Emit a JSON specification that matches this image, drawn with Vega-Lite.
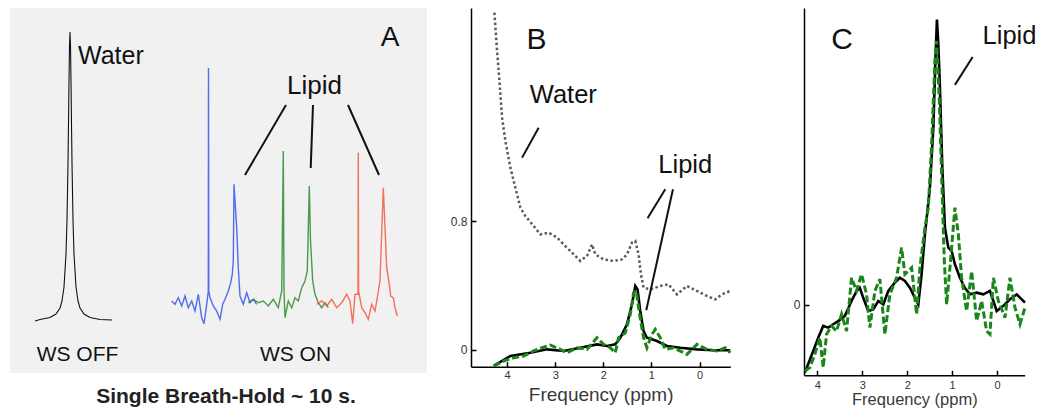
{
  "$schema": "https://vega.github.io/schema/vega-lite/v6.json",
  "padding": {"left": 10, "top": 7, "right": 0, "bottom": 0},
  "background": "white",
  "bounds": "flush",
  "spacing": 10,
  "config": {
    "view": {"stroke": null},
    "axis": {"grid": false, "domainColor": "#000", "domainWidth": 1.5, "tickColor": "#000", "tickWidth": 1.5, "labelFont": "Liberation Sans", "titleFont": "Liberation Sans", "labelColor": "#333", "titleColor": "#3a3a3a", "titleFontWeight": "normal"},
    "text": {"font": "Liberation Sans", "color": "#111"}
  },
  "datasets": {
    "aWater": [
      {"x": 25, "y": 0}, {"x": 30, "y": 1.5}, {"x": 40, "y": 3.5}, {"x": 46, "y": 7}, {"x": 50, "y": 13}, {"x": 52, "y": 20}, {"x": 54, "y": 34}, {"x": 56, "y": 67}, {"x": 57, "y": 101}, {"x": 58, "y": 158}, {"x": 58.5, "y": 197}, {"x": 59, "y": 240}, {"x": 59.5, "y": 275}, {"x": 60, "y": 289}, {"x": 60.5, "y": 275}, {"x": 61, "y": 240}, {"x": 61.5, "y": 197}, {"x": 62, "y": 158}, {"x": 63, "y": 101}, {"x": 64, "y": 67}, {"x": 66, "y": 34}, {"x": 68, "y": 20}, {"x": 70, "y": 13}, {"x": 74, "y": 7}, {"x": 80, "y": 3.5}, {"x": 90, "y": 1.5}, {"x": 102, "y": 1}
    ],
    "aOn": [
      {"s": "blue", "x": 161.7, "y": 20}, {"s": "blue", "x": 165, "y": 16.7}, {"s": "blue", "x": 168.3, "y": 23.3}, {"s": "blue", "x": 171.7, "y": 15}, {"s": "blue", "x": 175, "y": 25}, {"s": "blue", "x": 178.3, "y": 13.3}, {"s": "blue", "x": 181.7, "y": 20}, {"s": "blue", "x": 185, "y": 10}, {"s": "blue", "x": 188.3, "y": 26.7}, {"s": "blue", "x": 191.7, "y": 3.3}, {"s": "blue", "x": 194, "y": -2.7}, {"s": "blue", "x": 196.7, "y": 16.7}, {"s": "blue", "x": 198.3, "y": 30}, {"s": "blue", "x": 198.5, "y": 253}, {"s": "blue", "x": 198.8, "y": 30}, {"s": "blue", "x": 200, "y": 23.3}, {"s": "blue", "x": 203.3, "y": 15}, {"s": "blue", "x": 206.7, "y": 10}, {"s": "blue", "x": 210, "y": 1.7}, {"s": "blue", "x": 212.7, "y": 16.7}, {"s": "blue", "x": 215, "y": 21.7}, {"s": "blue", "x": 218.3, "y": 30}, {"s": "blue", "x": 220.7, "y": 38.3}, {"s": "blue", "x": 222.3, "y": 46.7}, {"s": "blue", "x": 223.3, "y": 60}, {"s": "blue", "x": 224, "y": 136.7}, {"s": "blue", "x": 226.7, "y": 93.3}, {"s": "blue", "x": 228.3, "y": 53}, {"s": "blue", "x": 230, "y": 25}, {"s": "blue", "x": 233.3, "y": 16.7}, {"s": "blue", "x": 236.7, "y": 28.3}, {"s": "blue", "x": 240, "y": 18.3}, {"s": "blue", "x": 243.3, "y": 21.7}, {"s": "blue", "x": 246.7, "y": 16.7},
      {"s": "green", "x": 238.3, "y": 18.3}, {"s": "green", "x": 243.3, "y": 21.7}, {"s": "green", "x": 248.3, "y": 18.3}, {"s": "green", "x": 253.3, "y": 20}, {"s": "green", "x": 258.3, "y": 15}, {"s": "green", "x": 263.3, "y": 21.7}, {"s": "green", "x": 268.3, "y": 13.3}, {"s": "green", "x": 271.7, "y": 30}, {"s": "green", "x": 273.3, "y": 170}, {"s": "green", "x": 274, "y": 30}, {"s": "green", "x": 275, "y": 3.3}, {"s": "green", "x": 278.3, "y": 20}, {"s": "green", "x": 281.7, "y": 13.3}, {"s": "green", "x": 285, "y": 23.3}, {"s": "green", "x": 288.3, "y": 20}, {"s": "green", "x": 291.7, "y": 33.3}, {"s": "green", "x": 295, "y": 40}, {"s": "green", "x": 297.3, "y": 50}, {"s": "green", "x": 299.3, "y": 135}, {"s": "green", "x": 300.5, "y": 80}, {"s": "green", "x": 302.7, "y": 40}, {"s": "green", "x": 305, "y": 26.7}, {"s": "green", "x": 308.3, "y": 18.3}, {"s": "green", "x": 311.7, "y": 13.3}, {"s": "green", "x": 315, "y": 18.3}, {"s": "green", "x": 318.3, "y": 13.3},
      {"s": "red", "x": 306.7, "y": 16.7}, {"s": "red", "x": 311.7, "y": 20}, {"s": "red", "x": 316.7, "y": 15}, {"s": "red", "x": 321.7, "y": 21.7}, {"s": "red", "x": 326.7, "y": 13.3}, {"s": "red", "x": 331.7, "y": 18.3}, {"s": "red", "x": 336.7, "y": 26.7}, {"s": "red", "x": 340, "y": 20}, {"s": "red", "x": 342.7, "y": -2.7}, {"s": "red", "x": 345, "y": 26.7}, {"s": "red", "x": 348, "y": 27}, {"s": "red", "x": 348.3, "y": 168.3}, {"s": "red", "x": 348.6, "y": 30}, {"s": "red", "x": 351.7, "y": 13.3}, {"s": "red", "x": 355, "y": 8.3}, {"s": "red", "x": 358.3, "y": 1.7}, {"s": "red", "x": 361.7, "y": 16.7}, {"s": "red", "x": 365, "y": 10}, {"s": "red", "x": 367.3, "y": 23.3}, {"s": "red", "x": 370, "y": 40}, {"s": "red", "x": 373.3, "y": 133.3}, {"s": "red", "x": 376.7, "y": 53.3}, {"s": "red", "x": 379.3, "y": 36.7}, {"s": "red", "x": 380.7, "y": 25}, {"s": "red", "x": 383.3, "y": 23.3}, {"s": "red", "x": 385, "y": 13.3}, {"s": "red", "x": 387.3, "y": 5}
    ],
    "aRules": [
      {"x": 276, "y": 216, "x2": 235, "y2": 146},
      {"x": 303, "y": 216, "x2": 300.7, "y2": 153},
      {"x": 338, "y": 216, "x2": 369, "y2": 146}
    ],
    "bWater": [
      {"x": 4.264, "y": 2.092}, {"x": 4.208, "y": 1.854}, {"x": 4.154, "y": 1.65}, {"x": 4.104, "y": 1.441}, {"x": 4.035, "y": 1.296}, {"x": 3.931, "y": 1.131}, {"x": 3.828, "y": 1.007}, {"x": 3.724, "y": 0.883}, {"x": 3.62, "y": 0.831}, {"x": 3.448, "y": 0.769}, {"x": 3.308, "y": 0.717}, {"x": 3.136, "y": 0.728}, {"x": 2.962, "y": 0.697}, {"x": 2.824, "y": 0.655}, {"x": 2.685, "y": 0.614}, {"x": 2.478, "y": 0.552}, {"x": 2.339, "y": 0.583}, {"x": 2.235, "y": 0.655}, {"x": 2.166, "y": 0.593}, {"x": 1.994, "y": 0.562}, {"x": 1.786, "y": 0.552}, {"x": 1.612, "y": 0.562}, {"x": 1.508, "y": 0.593}, {"x": 1.404, "y": 0.666}, {"x": 1.335, "y": 0.676}, {"x": 1.267, "y": 0.593}, {"x": 1.217, "y": 0.469}, {"x": 1.163, "y": 0.387}, {"x": 1.024, "y": 0.376}, {"x": 0.816, "y": 0.397}, {"x": 0.644, "y": 0.407}, {"x": 0.469, "y": 0.345}, {"x": 0.262, "y": 0.397}, {"x": 0.054, "y": 0.366}, {"x": -0.154, "y": 0.335}, {"x": -0.326, "y": 0.314}, {"x": -0.465, "y": 0.345}, {"x": -0.638, "y": 0.366}
    ],
    "bBlack": [
      {"x": 4.278, "y": -0.099}, {"x": 3.931, "y": -0.037}, {"x": 3.516, "y": -0.017}, {"x": 3.169, "y": 0.004}, {"x": 2.824, "y": -0.006}, {"x": 2.478, "y": 0.014}, {"x": 2.131, "y": 0.035}, {"x": 1.923, "y": 0.025}, {"x": 1.751, "y": 0.035}, {"x": 1.647, "y": 0.076}, {"x": 1.508, "y": 0.159}, {"x": 1.404, "y": 0.283}, {"x": 1.335, "y": 0.397}, {"x": 1.288, "y": 0.376}, {"x": 1.232, "y": 0.242}, {"x": 1.163, "y": 0.118}, {"x": 1.093, "y": 0.076}, {"x": 0.885, "y": 0.056}, {"x": 0.677, "y": 0.025}, {"x": 0.4, "y": 0.014}, {"x": 0.054, "y": 0.004}, {"x": -0.291, "y": -0.002}, {"x": -0.638, "y": -0.002}
    ],
    "bGreen": [
      {"x": 4.278, "y": -0.099}, {"x": 4.071, "y": -0.068}, {"x": 3.863, "y": -0.048}, {"x": 3.655, "y": -0.037}, {"x": 3.448, "y": -0.006}, {"x": 3.273, "y": 0.014}, {"x": 3.101, "y": 0.031}, {"x": 2.893, "y": 0.004}, {"x": 2.755, "y": -0.017}, {"x": 2.547, "y": 0.014}, {"x": 2.339, "y": 0.004}, {"x": 2.131, "y": 0.076}, {"x": 1.994, "y": 0.035}, {"x": 1.855, "y": 0.014}, {"x": 1.751, "y": -0.017}, {"x": 1.682, "y": 0.076}, {"x": 1.543, "y": 0.107}, {"x": 1.439, "y": 0.221}, {"x": 1.37, "y": 0.355}, {"x": 1.315, "y": 0.366}, {"x": 1.246, "y": 0.221}, {"x": 1.163, "y": 0.076}, {"x": 1.093, "y": 0.014}, {"x": 0.989, "y": 0.097}, {"x": 0.92, "y": 0.128}, {"x": 0.816, "y": 0.076}, {"x": 0.712, "y": 0.004}, {"x": 0.54, "y": 0.014}, {"x": 0.262, "y": -0.027}, {"x": 0.054, "y": 0.035}, {"x": -0.154, "y": 0.004}, {"x": -0.362, "y": -0.006}, {"x": -0.534, "y": 0.014}, {"x": -0.638, "y": -0.017}
    ],
    "bRules": [
      {"x": 3.344, "y": 1.379, "x2": 3.688, "y2": 1.193},
      {"x": 0.712, "y": 0.997, "x2": 1.08, "y2": 0.817},
      {"x": 0.552, "y": 0.997, "x2": 1.107, "y2": 0.246}
    ],
    "cBlack": [
      {"x": 4.276, "y": -0.236}, {"x": 4.089, "y": -0.16}, {"x": 3.978, "y": -0.114}, {"x": 3.867, "y": -0.073}, {"x": 3.755, "y": -0.079}, {"x": 3.644, "y": -0.067}, {"x": 3.533, "y": -0.056}, {"x": 3.385, "y": -0.038}, {"x": 3.237, "y": 0.014}, {"x": 3.126, "y": 0.049}, {"x": 3.052, "y": 0.06}, {"x": 2.977, "y": 0.025}, {"x": 2.866, "y": -0.021}, {"x": 2.755, "y": -0.015}, {"x": 2.643, "y": 0.014}, {"x": 2.532, "y": 0.002}, {"x": 2.421, "y": 0.049}, {"x": 2.274, "y": 0.078}, {"x": 2.163, "y": 0.095}, {"x": 2.051, "y": 0.084}, {"x": 1.94, "y": 0.06}, {"x": 1.829, "y": 0.025}, {"x": 1.753, "y": 0.002}, {"x": 1.68, "y": 0.107}, {"x": 1.606, "y": 0.246}, {"x": 1.495, "y": 0.409}, {"x": 1.419, "y": 0.618}, {"x": 1.368, "y": 0.874}, {"x": 1.339, "y": 0.995}, {"x": 1.308, "y": 0.908}, {"x": 1.272, "y": 0.757}, {"x": 1.219, "y": 0.478}, {"x": 1.161, "y": 0.269}, {"x": 1.086, "y": 0.2}, {"x": 1.012, "y": 0.188}, {"x": 0.939, "y": 0.142}, {"x": 0.828, "y": 0.095}, {"x": 0.716, "y": 0.059}, {"x": 0.605, "y": 0.037}, {"x": 0.456, "y": 0.043}, {"x": 0.307, "y": 0.037}, {"x": 0.16, "y": 0.049}, {"x": 0.011, "y": -0.021}, {"x": -0.138, "y": -0.003}, {"x": -0.285, "y": 0.02}, {"x": -0.434, "y": 0.037}, {"x": -0.619, "y": 0.008}
    ],
    "cGreen": [
      {"x": 4.276, "y": -0.23}, {"x": 4.165, "y": -0.218}, {"x": 4.053, "y": -0.172}, {"x": 3.942, "y": -0.114}, {"x": 3.867, "y": -0.218}, {"x": 3.793, "y": -0.102}, {"x": 3.682, "y": -0.073}, {"x": 3.571, "y": -0.091}, {"x": 3.459, "y": -0.032}, {"x": 3.348, "y": -0.091}, {"x": 3.237, "y": 0.095}, {"x": 3.126, "y": 0.049}, {"x": 3.015, "y": 0.107}, {"x": 2.903, "y": 0.037}, {"x": 2.829, "y": -0.079}, {"x": 2.718, "y": 0.049}, {"x": 2.607, "y": 0.09}, {"x": 2.496, "y": -0.102}, {"x": 2.385, "y": 0.037}, {"x": 2.236, "y": 0.095}, {"x": 2.125, "y": 0.2}, {"x": 2.051, "y": 0.107}, {"x": 1.902, "y": 0.13}, {"x": 1.791, "y": -0.032}, {"x": 1.717, "y": 0.13}, {"x": 1.606, "y": 0.269}, {"x": 1.531, "y": 0.339}, {"x": 1.457, "y": 0.56}, {"x": 1.384, "y": 0.85}, {"x": 1.346, "y": 0.92}, {"x": 1.286, "y": 0.711}, {"x": 1.235, "y": 0.455}, {"x": 1.175, "y": 0.153}, {"x": 1.123, "y": 0.002}, {"x": 1.05, "y": 0.13}, {"x": 0.939, "y": 0.339}, {"x": 0.863, "y": 0.246}, {"x": 0.79, "y": 0.095}, {"x": 0.679, "y": -0.021}, {"x": 0.567, "y": 0.118}, {"x": 0.456, "y": -0.056}, {"x": 0.345, "y": 0.014}, {"x": 0.234, "y": -0.091}, {"x": 0.16, "y": -0.102}, {"x": 0.085, "y": 0.095}, {"x": -0.027, "y": 0.014}, {"x": -0.174, "y": -0.044}, {"x": -0.285, "y": 0.095}, {"x": -0.396, "y": -0.009}, {"x": -0.507, "y": -0.067}, {"x": -0.619, "y": -0.009}
    ],
    "cRules": [
      {"x": 0.545, "y": 0.864, "x2": 0.939, "y2": 0.767}
    ]
  },
  "hconcat": [
    {
      "width": 417,
      "height": 365,
      "view": {"fill": "#f1f1f1", "stroke": null},
      "encoding": {
        "x": {"field": "x", "type": "quantitative", "scale": {"domain": [0, 417], "nice": false, "zero": false}, "axis": null},
        "y": {"field": "y", "type": "quantitative", "scale": {"domain": [-52, 313], "nice": false, "zero": false}, "axis": null}
      },
      "layer": [
        {"data": {"name": "aWater"}, "mark": {"type": "line", "color": "#111", "strokeWidth": 1.1}},
        {"data": {"name": "aOn"}, "mark": {"type": "line", "strokeWidth": 1.4, "opacity": 0.85},
         "encoding": {"color": {"field": "s", "type": "nominal", "scale": {"domain": ["blue", "green", "red"], "range": ["#3356ee", "#2e8a2e", "#f25a40"]}, "legend": null}}},
        {"data": {"name": "aRules"}, "mark": {"type": "rule", "color": "#111", "strokeWidth": 2}, "encoding": {"x2": {"field": "x2"}, "y2": {"field": "y2"}}},
        {"data": {"values": [{"x": 68, "y": 256.7, "t": "Water"}]}, "mark": {"type": "text", "align": "left", "baseline": "alphabetic", "fontSize": 25}, "encoding": {"text": {"field": "t"}}},
        {"data": {"values": [{"x": 380, "y": 275, "t": "A"}]}, "mark": {"type": "text", "align": "center", "baseline": "alphabetic", "fontSize": 28}, "encoding": {"text": {"field": "t"}}},
        {"data": {"values": [{"x": 304.5, "y": 227, "t": "Lipid"}]}, "mark": {"type": "text", "align": "center", "baseline": "alphabetic", "fontSize": 26}, "encoding": {"text": {"field": "t"}}},
        {"data": {"values": [{"x": 67.5, "y": -40, "t": "WS OFF"}, {"x": 285.5, "y": -40, "t": "WS ON"}]}, "mark": {"type": "text", "align": "center", "baseline": "alphabetic", "fontSize": 21}, "encoding": {"text": {"field": "t"}}},
        {"data": {"values": [{"x": 216, "y": -82, "t": "Single Breath-Hold ~ 10 s."}]}, "mark": {"type": "text", "align": "center", "baseline": "alphabetic", "fontSize": 21, "fontWeight": "bold", "color": "#222"}, "encoding": {"text": {"field": "t"}}}
      ]
    },
    {"width": 23.7, "height": 10, "data": {"values": [{}]}, "mark": {"type": "point", "opacity": 0}, "encoding": {}},
    {
      "width": 259.3,
      "height": 358.7,
      "encoding": {
        "x": {"field": "x", "type": "quantitative", "scale": {"domain": [4.75, -0.64], "nice": false, "zero": false},
              "axis": {"values": [4, 3, 2, 1, 0], "format": "d", "title": "Frequency (ppm)", "titleFontSize": 19, "labelFontSize": 11, "tickSize": -5, "labelPadding": 8, "titlePadding": 5}},
        "y": {"field": "y", "type": "quantitative", "scale": {"domain": [-0.1036, 2.121], "nice": false, "zero": false},
              "axis": {"values": [0, 0.8], "format": "~g", "title": null, "labelFontSize": 12, "tickSize": -5, "labelPadding": 9}}
      },
      "layer": [
        {"data": {"name": "bWater"}, "mark": {"type": "line", "color": "#5a5a5a", "strokeWidth": 2.5, "strokeDash": [2.5, 2.5]}},
        {"data": {"name": "bBlack"}, "mark": {"type": "line", "color": "#000", "strokeWidth": 2.6}},
        {"data": {"name": "bGreen"}, "mark": {"type": "line", "color": "#1a861a", "strokeWidth": 3, "strokeDash": [7, 3]}},
        {"data": {"name": "bRules"}, "mark": {"type": "rule", "color": "#111", "strokeWidth": 2}, "encoding": {"x2": {"field": "x2"}, "y2": {"field": "y2"}}},
        {"data": {"values": [{"x": 3.391, "y": 1.867, "t": "B"}]}, "mark": {"type": "text", "align": "center", "baseline": "alphabetic", "fontSize": 30}, "encoding": {"text": {"field": "t"}}},
        {"data": {"values": [{"x": 2.831, "y": 1.534, "t": "Water"}, {"x": 0.297, "y": 1.1, "t": "Lipid"}]}, "mark": {"type": "text", "align": "center", "baseline": "alphabetic", "fontSize": 25.5}, "encoding": {"text": {"field": "t"}}}
      ]
    },
    {"width": 52.3, "height": 10, "data": {"values": [{}]}, "mark": {"type": "point", "opacity": 0}, "encoding": {}},
    {
      "width": 220.7,
      "height": 367.3,
      "encoding": {
        "x": {"field": "x", "type": "quantitative", "scale": {"domain": [4.294, -0.612], "nice": false, "zero": false},
              "axis": {"values": [4, 3, 2, 1, 0], "format": "d", "title": "Frequency (ppm)", "titleFontSize": 16.5, "labelFontSize": 11, "tickSize": -5, "labelPadding": 9, "titlePadding": 1}},
        "y": {"field": "y", "type": "quantitative", "scale": {"domain": [-0.245, 1.035], "nice": false, "zero": false},
              "axis": {"values": [0], "format": "~g", "title": null, "labelFontSize": 12, "tickSize": -5, "labelPadding": 9}}
      },
      "layer": [
        {"data": {"name": "cBlack"}, "mark": {"type": "line", "color": "#000", "strokeWidth": 2.6}},
        {"data": {"name": "cGreen"}, "mark": {"type": "line", "color": "#1a861a", "strokeWidth": 3, "strokeDash": [7, 3]}},
        {"data": {"name": "cRules"}, "mark": {"type": "rule", "color": "#111", "strokeWidth": 2}, "encoding": {"x2": {"field": "x2"}, "y2": {"field": "y2"}}},
        {"data": {"values": [{"x": 3.448, "y": 0.891, "t": "C"}]}, "mark": {"type": "text", "align": "center", "baseline": "alphabetic", "fontSize": 30}, "encoding": {"text": {"field": "t"}}},
        {"data": {"values": [{"x": -0.274, "y": 0.908, "t": "Lipid"}]}, "mark": {"type": "text", "align": "center", "baseline": "alphabetic", "fontSize": 25.5}, "encoding": {"text": {"field": "t"}}}
      ]
    }
  ]
}
